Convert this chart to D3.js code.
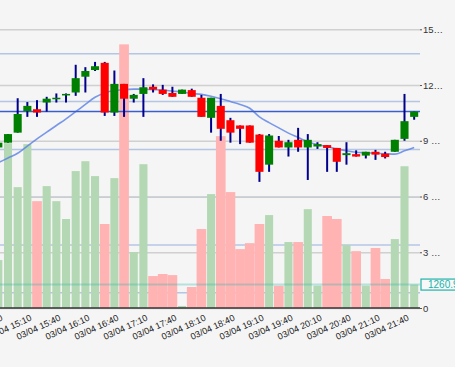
<!DOCTYPE html>
<html>
<head>
<meta charset="utf-8">
<script src="https://cdn.jsdelivr.net/npm/d3@7"></script>
<style>
  body { margin: 0; background: #f5f5f5; }
  svg { display: block; font-family: "Liberation Sans", Arial, sans-serif; }
</style>
</head>
<body>
<div id="chart"></div>
<script>
// 10 minute candles, 03/04
const times = ["14:40","14:50","15:00","15:10","15:20","15:30","15:40","15:50","16:00","16:10","16:20",
  "16:30","16:40","16:50","17:00","17:10","17:20","17:30","17:40","17:50","18:00","18:10","18:20",
  "18:30","18:40","18:50","19:00","19:10","19:20","19:30","19:40","19:50","20:00","20:10","20:20",
  "20:30","20:40","20:50","21:00","21:10","21:20","21:30","21:40","21:50"];
const opens  = [130.3,131.3,133.4,137.9,138.3,139.7,140.7,141.5,141.8,145.1,146.5,148.0,137.6,143.6,140.5,141.5,
  143.0,142.4,141.7,141.5,142.3,140.7,136.5,139.0,136.0,134.9,134.9,133.0,126.7,131.7,130.3,131.9,130.3,130.5,
  130.8,130.2,128.7,128.9,128.6,129.4,129.0,129.4,132.1,136.7];
const highs  = [131.3,133.1,140.6,139.8,140.2,140.9,141.6,141.6,147.6,147.1,148.2,148.2,146.4,143.6,141.5,144.8,
  143.5,143.4,143.0,142.4,142.6,141.3,140.7,141.5,136.5,134.9,134.9,133.1,133.1,132.7,131.9,134.4,133.1,131.4,
  130.8,130.2,131.4,129.7,129.4,129.8,129.4,131.9,141.5,137.8];
const lows   = [130.3,131.3,133.4,136.7,136.7,137.8,139.7,139.7,141.1,141.8,146.3,136.9,136.9,136.7,139.7,136.7,
  141.8,141.3,140.9,141.5,140.9,136.7,133.4,131.7,131.3,131.0,131.3,123.1,125.2,130.3,128.4,129.4,123.5,130.0,
  125.2,125.2,126.7,128.4,128.0,127.7,128.0,129.4,131.7,136.1];
const closes = [131.3,133.1,137.3,139.0,137.6,140.5,140.7,141.5,144.8,146.3,147.3,137.6,143.6,140.5,141.3,142.9,
  142.4,141.5,140.9,142.4,140.9,136.7,140.7,134.2,133.4,134.2,131.3,125.2,132.8,130.3,131.4,130.3,131.9,131.0,
  130.2,127.3,129.1,128.4,129.4,128.8,128.3,131.9,135.8,137.8];
const volumes = [2580,8870,6505,8820,5750,6560,5750,4790,7370,7900,7100,4520,6990,14190,3010,7740,
  1720,1830,1770,110,1130,4250,6130,9250,6240,3170,3490,4520,5000,1200,3550,3550,5320,1200,
  4950,4790,3390,3060,1200,3230,1560,3710,7630,1260.9];
const maValues = [127.1,128.1,129.1,130.6,132.1,133.5,134.9,136.3,137.8,139.3,140.8,141.7,142.2,142.4,142.5,142.5,
  142.4,142.3,142.1,141.9,141.6,141.4,141.0,140.5,139.9,139.3,138.5,136.7,135.5,134.4,133.3,132.4,131.5,130.9,
  130.5,130.0,129.6,129.3,129.2,129.1,129.0,128.9,129.6,130.3];
const tickTimes = ["14:40","15:10","15:40","16:10","16:40","17:10","17:40","18:10","18:40","19:10","19:40",
  "20:10","20:40","21:10","21:40"];
const volumeTicks = [0, 3000, 6000, 9000, 12000, 15000];
const priceTicks = [100, 110, 120, 130, 140, 150];
const datePrefix = "03/04 ";

const width = 455, height = 367;
const plotRight = 420;

const svg = d3.select("#chart").append("svg")
  .attr("width", width)
  .attr("height", height);

svg.append("rect").attr("width", width).attr("height", height).attr("fill", "#f5f5f5");

const x = d3.scaleBand().domain(times).range([-6.5, 419]).padding(0);
const volY = d3.scaleLinear().domain([0, 15000]).range([308, 29.3]);
const priceY = d3.scaleLinear().domain([100, 150]).range([292.3, 53.3]);

const data = times.map(function(t, i) {
  return {t: t, o: opens[i], h: highs[i], l: lows[i], c: closes[i], v: volumes[i], ma: maValues[i]};
});

// price grid (blue) then volume grid (grey)
svg.append("g")
  .attr("transform", "translate(" + plotRight + ",0)")
  .call(d3.axisRight(priceY).tickValues(priceTicks).tickSize(-plotRight).tickFormat(""))
  .call(g => g.select(".domain").remove())
  .call(g => g.selectAll("line").attr("stroke", "#b4c6e4").attr("stroke-width", 1.5));

svg.append("g")
  .attr("transform", "translate(" + plotRight + ",0)")
  .call(d3.axisRight(volY).tickValues(volumeTicks).tickSize(-plotRight).tickFormat(""))
  .call(g => g.select(".domain").remove())
  .call(g => g.selectAll("line").attr("stroke", "#d0d0d0").attr("stroke-width", 1.5));

// volume bars
svg.selectAll(".vol")
  .data(data)
  .enter().append("rect")
  .attr("class", "vol")
  .attr("x", function(d) { return d.c >= d.o ? x(d.t) + 0.8 : x(d.t); })
  .attr("width", function(d) { return d.c >= d.o ? x.bandwidth() - 1.6 : x.bandwidth(); })
  .attr("y", function(d) { return volY(d.v); })
  .attr("height", function(d) { return volY(0) - volY(d.v); })
  .attr("fill", function(d) { return d.c >= d.o ? "#b3d8b3" : "#ffb3b3"; });

// last volume line
svg.append("line")
  .attr("x1", 0).attr("x2", plotRight)
  .attr("y1", volY(volumes[volumes.length - 1])).attr("y2", volY(volumes[volumes.length - 1]))
  .attr("stroke", "#20b2aa").attr("stroke-opacity", 0.3).attr("stroke-width", 2);

// moving average
const maLine = d3.line()
  .x(function(d) { return x(d.t) + x.bandwidth() / 2; })
  .y(function(d) { return priceY(d.ma); })
  .curve(d3.curveMonotoneX);

svg.append("path")
  .datum(data)
  .attr("d", maLine)
  .attr("fill", "none")
  .attr("stroke", "#5a7fe6")
  .attr("stroke-opacity", 0.8)
  .attr("stroke-width", 1.6);

// last price line
const lastClose = closes[closes.length - 1];
svg.append("line")
  .attr("x1", 0).attr("x2", plotRight)
  .attr("y1", priceY(lastClose)).attr("y2", priceY(lastClose))
  .attr("stroke", "#3a5fcd").attr("stroke-width", 1.5);

// candles
const candles = svg.selectAll(".candle")
  .data(data)
  .enter().append("g")
  .attr("class", "candle");

candles.append("line")
  .attr("x1", function(d) { return x(d.t) + x.bandwidth() / 2; })
  .attr("x2", function(d) { return x(d.t) + x.bandwidth() / 2; })
  .attr("y1", function(d) { return priceY(d.h); })
  .attr("y2", function(d) { return priceY(d.l); })
  .attr("stroke", "#00008b")
  .attr("stroke-width", 2);

candles.append("rect")
  .attr("x", function(d) { return x(d.t) + 0.8; })
  .attr("width", x.bandwidth() - 1.6)
  .attr("y", function(d) { return priceY(Math.max(d.o, d.c)); })
  .attr("height", function(d) { return Math.max(1.5, Math.abs(priceY(d.o) - priceY(d.c))); })
  .attr("fill", function(d) { return d.c >= d.o ? "#008000" : "#ff0000"; });

// bottom axis
const xAxis = svg.append("g")
  .attr("transform", "translate(0,308)")
  .call(d3.axisBottom(x).tickValues(tickTimes).tickSize(0).tickFormat(function(t) { return datePrefix + t; }));

xAxis.select(".domain").remove();
xAxis.selectAll("text")
  .attr("x", 0).attr("y", 0).attr("dy", 0)
  .attr("transform", "translate(5,12) rotate(-25)")
  .style("text-anchor", "end")
  .attr("fill", "#1a1a1a")
  .style("font-size", "9px");

svg.append("line")
  .attr("x1", 0).attr("x2", plotRight)
  .attr("y1", 308).attr("y2", 308)
  .attr("stroke", "#333").attr("stroke-width", 1.5);

// right axis labels
const volFormat = function(d) {
  const s = d3.format(",")(d).replace(/,/g, " ");
  return s.length > 2 ? s.slice(0, 2) + "…" : s;
};

svg.append("g")
  .attr("transform", "translate(" + plotRight + ",0)")
  .call(d3.axisRight(volY).tickValues(volumeTicks).tickSize(2).tickPadding(1).tickFormat(volFormat))
  .call(g => g.select(".domain").remove())
  .call(g => g.selectAll("line").attr("stroke", "#555"))
  .call(g => g.selectAll("text").attr("fill", "#333").style("font-size", "9.5px"));

// last volume label
const lastV = volumes[volumes.length - 1];
svg.append("rect")
  .attr("x", 421).attr("y", volY(lastV) - 5.5)
  .attr("width", 40).attr("height", 11)
  .attr("fill", "#f8f8f8")
  .attr("stroke", "#20b2aa").attr("stroke-width", 1.2);

svg.append("text")
  .attr("x", 428).attr("y", volY(lastV))
  .attr("dy", "0.35em")
  .attr("fill", "#20b2aa")
  .style("font-size", "10px")
  .text(d3.format(".1f")(lastV));
</script>
</body>
</html>
